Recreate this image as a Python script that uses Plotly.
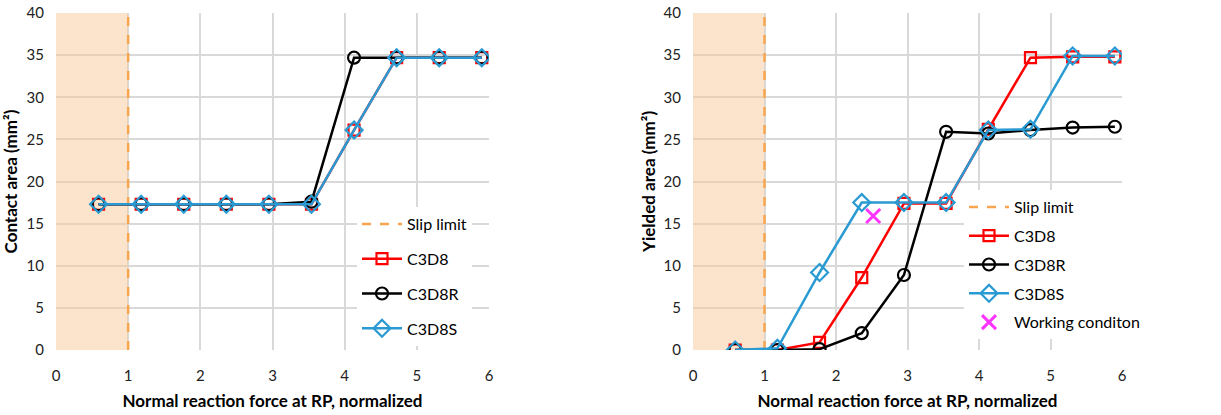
import plotly.graph_objects as go

# ---- data ----
force = [0.59, 1.18, 1.77, 2.36, 2.95, 3.54, 4.13, 4.72, 5.31, 5.90]

contact_c3d8 = [17.3, 17.3, 17.3, 17.3, 17.3, 17.3, 26.1, 34.7, 34.7, 34.7]
contact_c3d8r = [17.3, 17.3, 17.3, 17.3, 17.3, 17.6, 34.7, 34.7, 34.7, 34.7]
contact_c3d8s = [17.3, 17.3, 17.3, 17.3, 17.3, 17.3, 26.1, 34.7, 34.7, 34.7]

yield_c3d8 = [0.0, 0.0, 0.9, 8.6, 17.4, 17.4, 26.2, 34.7, 34.8, 34.8]
yield_c3d8r = [0.0, 0.0, 0.1, 2.0, 8.9, 25.9, 25.7, 26.1, 26.4, 26.5]
yield_c3d8s = [0.0, 0.2, 9.2, 17.5, 17.5, 17.5, 26.1, 26.2, 34.9, 34.9]

working_x = [2.52]
working_y = [15.9]

slip_x = [1, 1]
slip_y = [0, 40]
shade_x = [0, 1]

x_ticks = [0, 1, 2, 3, 4, 5, 6]
y_ticks = [0, 5, 10, 15, 20, 25, 30, 35, 40]

FONT = "Lato, 'Open Sans', sans-serif"
RED = "#FF0000"
BLACK = "#000000"
BLUE = "#2A9AD2"
ORANGE = "#F7A54F"
MAGENTA = "#FF33FF"

W, H = 1221, 415


def px(x):
    return x / W


def py(y):
    return 1 - y / H


fig = go.Figure()


def add_series(xref, yref, legend, ys_list):
    fig.add_trace(go.Scatter(x=slip_x, y=slip_y, mode="lines", name="Slip limit",
                             line=dict(color=ORANGE, width=2.5, dash="dash"),
                             xaxis=xref, yaxis=yref, legend=legend, legendgroup=legend + "a"))
    specs = [("C3D8", RED, "square-open", 11), ("C3D8R", BLACK, "circle-open", 12),
             ("C3D8S", BLUE, "diamond-open", 13)]
    for (name, col, sym, sz), ys in zip(specs, ys_list):
        fig.add_trace(go.Scatter(x=force, y=ys, mode="lines+markers", name=name,
                                 line=dict(color=col, width=2.5),
                                 marker=dict(symbol=sym, size=sz, color=col,
                                             line=dict(color=col, width=2.2)),
                                 xaxis=xref, yaxis=yref, legend=legend,
                                 legendgroup=legend + name))


add_series("x", "y", "legend", [contact_c3d8, contact_c3d8r, contact_c3d8s])
add_series("x2", "y2", "legend2", [yield_c3d8, yield_c3d8r, yield_c3d8s])
fig.add_trace(go.Scatter(x=working_x, y=working_y, mode="markers", name="Working conditon",
                         marker=dict(symbol="x-thin", size=14, color=MAGENTA,
                                     line=dict(color=MAGENTA, width=3)),
                         xaxis="x2", yaxis="y2", legend="legend2", legendgroup="wc"))

for xr, yr in [("x", "y"), ("x2", "y2")]:
    fig.add_shape(type="rect", xref=xr, yref=yr, x0=shade_x[0], x1=shade_x[1], y0=0, y1=40,
                  fillcolor="rgba(249,201,153,0.5)", line=dict(width=0), layer="between")

tick_font = dict(family=FONT, size=15, color="#222")
axis_common = dict(range=[0, 6], tickvals=x_ticks, showgrid=True, gridcolor="#D9D9D9",
                   gridwidth=1.5, zeroline=False, showline=False, ticks="outside",
                   ticklen=12, tickcolor="rgba(0,0,0,0)", automargin=False, tickfont=tick_font,
                   ticklabeloverflow="allow")
yaxis_common = dict(range=[0, 40], tickvals=y_ticks, showgrid=True, gridcolor="#D9D9D9",
                    gridwidth=1.5, zeroline=False, showline=False, ticks="outside",
                    ticklen=8, tickcolor="rgba(0,0,0,0)", automargin=False, tickfont=tick_font,
                    ticklabeloverflow="allow")
title_font = dict(family=FONT, size=17, color="#000")

legend_common = dict(bgcolor="white", borderwidth=0, font=dict(family=FONT, size=16, color="#000"),
                     xanchor="left", yanchor="top", itemwidth=40)

fig.update_layout(
    width=W, height=H,
    margin=dict(l=0, r=0, t=0, b=0),
    paper_bgcolor="white", plot_bgcolor="white",
    font=dict(family=FONT),
    xaxis=dict(domain=[px(56), px(489)], anchor="y",
               title=dict(text="<b>Normal reaction force at RP, normalized</b>", font=title_font, standoff=12),
               **axis_common),
    yaxis=dict(domain=[py(350), py(13)], anchor="x",
               title=dict(text="<b>Contact area (mm²)</b>", font=title_font, standoff=4),
               **yaxis_common),
    xaxis2=dict(domain=[px(693), px(1122)], anchor="y2",
                title=dict(text="<b>Normal reaction force at RP, normalized</b>", font=title_font, standoff=12),
                **axis_common),
    yaxis2=dict(domain=[py(350), py(13)], anchor="x2",
                title=dict(text="<b>Yielded area (mm²)</b>", font=title_font, standoff=3),
                **yaxis_common),
    legend=dict(x=px(357), y=py(207), tracegroupgap=11, **legend_common),
    legend2=dict(x=px(964), y=py(190), tracegroupgap=5, **legend_common),
)

fig.write_html("out.html", config={"displayModeBar": False},
               post_script="document.body.style.margin='0';document.body.style.overflow='hidden';")
